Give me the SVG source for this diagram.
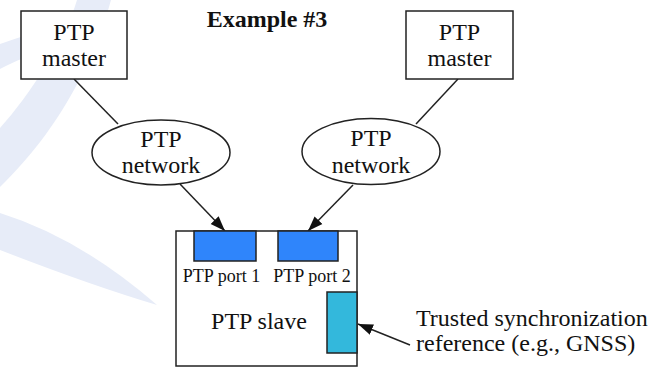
<svg xmlns="http://www.w3.org/2000/svg" width="657" height="368" viewBox="0 0 657 368">
  <defs>
    <style>
      .box { fill: #ffffff; stroke: #222222; stroke-width: 1.5; }
      .cloud { fill: #ffffff; stroke: #222222; stroke-width: 1.5; }
      .port { fill: #2f85fb; stroke: #222222; stroke-width: 1.5; }
      .ref { fill: #33b8dc; stroke: #222222; stroke-width: 1.5; }
      .wire { fill: none; stroke: #222222; stroke-width: 1.5; }
      .arrow { fill: none; stroke: #222222; stroke-width: 1.5; marker-end: url(#head); }
      .lbl { font-family: "Liberation Serif", "Times New Roman", serif; font-size: 24px; fill: #111111; text-anchor: middle; }
      .small { font-size: 18px; }
      .note { text-anchor: start; }
      .title { font-weight: bold; }
      .mark { fill: #e7ecf8; }
    </style>
    <marker id="head" markerUnits="userSpaceOnUse" markerWidth="16" markerHeight="12" refX="15" refY="6" orient="auto">
      <path d="M0,0.5 L15,6 L0,11.5 Z" fill="#111111"/>
    </marker>
  </defs>

  <!-- faint background swooshes -->
  <g id="backdrop">
    <path class="mark" d="M77,0 L111,0 C100,40 70,120 0,187 L0,128 C30,95 65,40 77,0 Z"/>
    <path class="mark" d="M0,44 C8,41 15,39 24,36 L24,58 C15,61 8,65 0,69 Z"/>
    <path class="mark" d="M0,213 Q80,238 157,305 Q90,285 0,250 Z"/>
  </g>

  <text class="lbl title" x="267" y="27">Example #3</text>

  <!-- connectors -->
  <g id="connectors">
    <line class="wire" x1="74" y1="79" x2="118" y2="124"/>
    <line class="wire" x1="458" y1="79" x2="416" y2="124"/>
    <line class="arrow" x1="180" y1="184" x2="225" y2="231"/>
    <line class="arrow" x1="353" y1="185" x2="308" y2="231"/>
    <line class="arrow" x1="410" y1="345" x2="358" y2="324"/>
  </g>

  <g id="master-left">
    <rect class="box" x="21" y="11" width="106" height="68"/>
    <text class="lbl" x="74" y="40">PTP</text>
    <text class="lbl" x="74" y="66">master</text>
  </g>

  <g id="master-right">
    <rect class="box" x="406" y="11" width="107" height="68"/>
    <text class="lbl" x="459.5" y="40">PTP</text>
    <text class="lbl" x="459.5" y="66">master</text>
  </g>

  <g id="network-left">
    <ellipse class="cloud" cx="161" cy="152.5" rx="69" ry="32.5"/>
    <text class="lbl" x="161" y="147">PTP</text>
    <text class="lbl" x="161" y="173">network</text>
  </g>

  <g id="network-right">
    <ellipse class="cloud" cx="371" cy="151.5" rx="69" ry="33"/>
    <text class="lbl" x="371" y="146">PTP</text>
    <text class="lbl" x="371" y="172.5">network</text>
  </g>

  <g id="slave">
    <rect class="box" x="176" y="231" width="181" height="135"/>
    <rect class="port" x="194" y="231" width="62" height="30"/>
    <rect class="port" x="278" y="231" width="60" height="30"/>
    <rect class="ref" x="327" y="292" width="30" height="61"/>
    <text class="lbl small" x="221.5" y="282">PTP port 1</text>
    <text class="lbl small" x="312" y="282">PTP port 2</text>
    <text class="lbl" x="259" y="329">PTP slave</text>
  </g>

  <g id="time-source">
    <text class="lbl note" x="416" y="326">Trusted synchronization</text>
    <text class="lbl note" x="416" y="351">reference (e.g., GNSS)</text>
  </g>
</svg>
